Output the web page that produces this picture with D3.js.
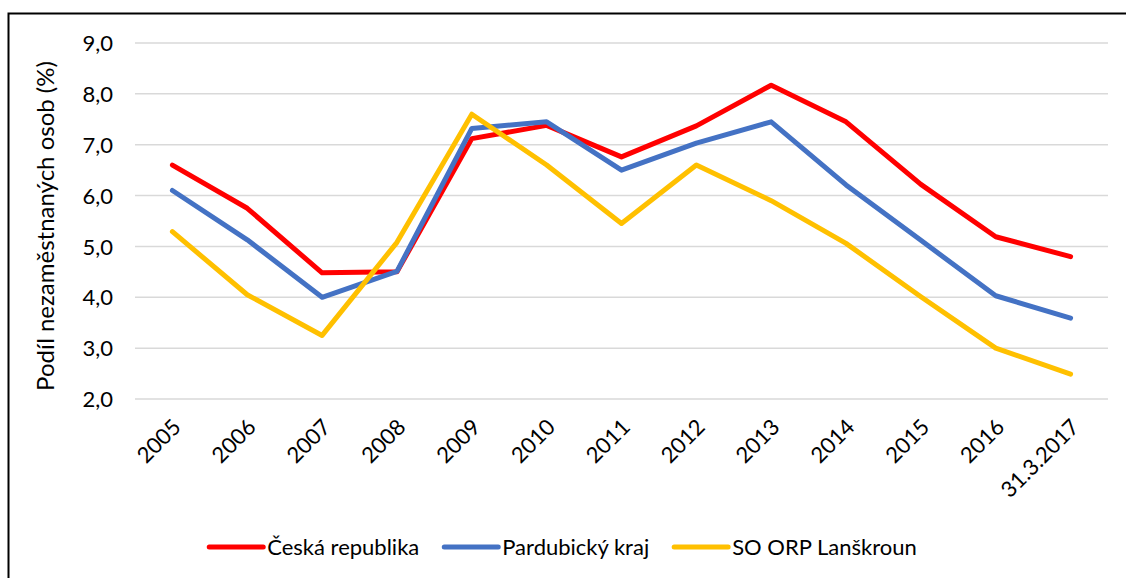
<!DOCTYPE html>
<html>
<head>
<meta charset="utf-8">
<script src="https://cdn.jsdelivr.net/npm/d3@7"></script>
<style>
  body { margin: 0; background: #fff; }
  svg text { font-family: Lato, "Open Sans", sans-serif; fill: #000; }
</style>
</head>
<body>
<div id="chart"></div>
<script>
const categories = ['2005', '2006', '2007', '2008', '2009', '2010', '2011', '2012', '2013', '2014', '2015', '2016', '31.3.2017']
const cz = [6.6, 5.75, 4.48, 4.5, 7.12, 7.38, 6.76, 7.37, 8.17, 7.45, 6.22, 5.19, 4.8]
const pardubice = [6.1, 5.13, 4.0, 4.51, 7.32, 7.45, 6.5, 7.03, 7.45, 6.21, 5.12, 4.03, 3.59]
const lanskroun = [5.29, 4.05, 3.25, 5.08, 7.6, 6.6, 5.45, 6.6, 5.9, 5.06, 4.01, 3.0, 2.49]
const seriesNames = ['Česká republika', 'Pardubický kraj', 'SO ORP Lanškroun']
const colors = ['#FF0000', '#4472C4', '#FFC000']
const yTicks = [2, 3, 4, 5, 6, 7, 8, 9]

const series = [cz, pardubice, lanskroun].map((vals, i) => ({
  name: seriesNames[i],
  color: colors[i],
  values: vals.map((v, j) => ({cat: categories[j], v: v}))
}))

const W = 1126, H = 578
const margin = {top: 43, right: 18, bottom: 179, left: 135}

const svg = d3.select('#chart')
  .append('svg')
    .attr('width', W)
    .attr('height', H)

// chart frame (runs off the right and bottom)
svg.append('rect')
  .attr('x', 8.5)
  .attr('y', 13.5)
  .attr('width', W + 20)
  .attr('height', H + 20)
  .attr('fill', 'none')
  .attr('stroke', '#000')
  .attr('stroke-width', 2)

const xscale = d3.scalePoint()
  .domain(categories)
  .range([margin.left, W - margin.right])
  .padding(0.5)

const yscale = d3.scaleLinear()
  .domain([2, 9])
  .range([H - margin.bottom, margin.top])

// gridlines
svg.append('g')
  .selectAll('line')
  .data(yTicks)
  .enter()
  .append('line')
    .attr('x1', margin.left)
    .attr('x2', W - margin.right)
    .attr('y1', d => yscale(d))
    .attr('y2', d => yscale(d))
    .attr('stroke', '#D9D9D9')
    .attr('stroke-width', 1.5)

// y axis labels
const leftAxis = d3.axisLeft(yscale)
  .tickValues(yTicks)
  .tickFormat(d => d3.format('.1f')(d).replace('.', ','))
  .tickSize(0)
  .tickPadding(0)

svg.append('g')
  .attr('transform', `translate(${margin.left - 22}, 0)`)
  .call(leftAxis)
  .call(g => g.select('.domain').remove())
  .selectAll('text')
    .style('font-size', '22px')
    .attr('dy', '0.35em')

// x axis labels
const bottomAxis = d3.axisBottom(xscale).tickSize(0).tickPadding(0)

svg.append('g')
  .attr('transform', `translate(0, ${H - margin.bottom})`)
  .call(bottomAxis)
  .call(g => g.select('.domain').remove())
  .selectAll('text')
    .style('font-size', '22px')
    .attr('text-anchor', 'end')
    .attr('dy', '0.35em')
    .attr('transform', 'translate(4, 24) rotate(-45)')

// y axis title
svg.append('text')
  .attr('transform', `translate(54, ${(yscale(2) + yscale(9)) / 2 + 5}) rotate(-90)`)
  .attr('text-anchor', 'middle')
  .style('font-size', '24px')
  .text('Podíl nezaměstnaných osob (%)')

// lines
const line = d3.line()
  .x(d => xscale(d.cat))
  .y(d => yscale(d.v))

svg.append('g')
  .selectAll('path')
  .data(series)
  .enter()
  .append('path')
    .attr('d', d => line(d.values))
    .attr('fill', 'none')
    .attr('stroke', d => d.color)
    .attr('stroke-width', 5)
    .attr('stroke-linejoin', 'round')
    .attr('stroke-linecap', 'round')

// legend
const legend = svg.append('g')
const items = legend.selectAll('g')
  .data(series)
  .enter()
  .append('g')

items.append('line')
  .attr('x1', 0)
  .attr('x2', 54)
  .attr('stroke', d => d.color)
  .attr('stroke-width', 5)
  .attr('stroke-linecap', 'round')

items.append('text')
  .attr('x', 58)
  .attr('dy', '0.35em')
  .style('font-size', '22px')
  .text(d => d.name)

let xpos = 0
items.each(function() {
  d3.select(this).attr('transform', `translate(${xpos}, 0)`)
  xpos += this.getBBox().width + 25
})
const legendWidth = xpos - 25
legend.attr('transform', `translate(${563 - legendWidth / 2}, 547)`)
</script>
</body>
</html>
